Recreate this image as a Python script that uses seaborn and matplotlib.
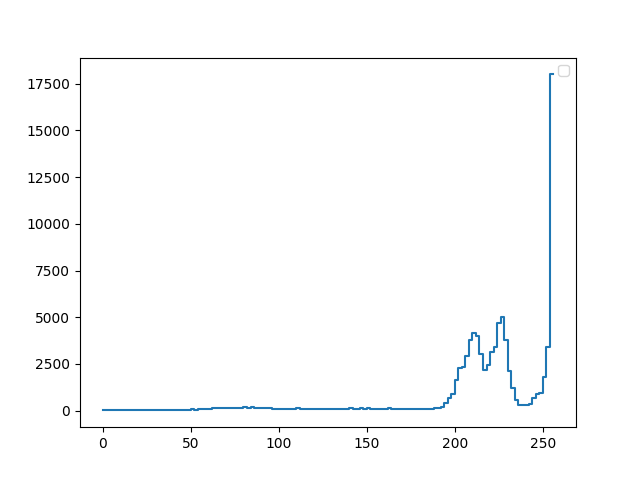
import numpy as np
import pandas as pd
import matplotlib
matplotlib.use("Agg")
import matplotlib.pyplot as plt
import seaborn as sns

# Histogram counts for 128 bins of width 2 (bin starts 0, 2, ..., 254)
counts = [
    10, 10, 10, 10, 10, 10, 10, 10, 10, 10,
    10, 10, 10, 10, 10, 10, 10, 10, 10, 10,
    10, 10, 10, 10, 10, 75, 20, 60, 60, 60,
    60, 125, 125, 125, 125, 125, 125, 125, 125, 125,
    180, 125, 180, 125, 125, 125, 125, 125, 65, 65,
    65, 65, 65, 65, 65, 125, 65, 65, 65, 65,
    65, 65, 65, 65, 65, 65, 65, 65, 65, 65,
    125, 65, 65, 125, 65, 125, 65, 65, 65, 65,
    65, 125, 65, 65, 65, 65, 65, 65, 65, 65,
    65, 65, 65, 65, 120, 125, 180, 400, 656, 880,
    1620, 2257, 2311, 2920, 3800, 4160, 4020, 3025, 2150, 2440,
    3113, 3430, 4712, 5032, 3772, 2098, 1190, 570, 320, 283,
    320, 373, 656, 870, 923, 1790, 3378, 18000,
]
bin_width = 2
edges = np.arange(0, bin_width * (len(counts) + 1), bin_width)

df = pd.DataFrame({"x": edges, "y": counts + [counts[-1]]})

fig, ax = plt.subplots(figsize=(6.4, 4.8), dpi=100)
sns.lineplot(data=df, x="x", y="y", drawstyle="steps-post", color="#1f77b4", linewidth=1.5, ax=ax)
ax.set_xlabel("")
ax.set_ylabel("")
ax.set_xticks([0, 50, 100, 150, 200, 250])
ax.set_yticks([0, 2500, 5000, 7500, 10000, 12500, 15000, 17500])
ax.legend(handles=[], labels=[])
fig.savefig("out.png", dpi=100)
